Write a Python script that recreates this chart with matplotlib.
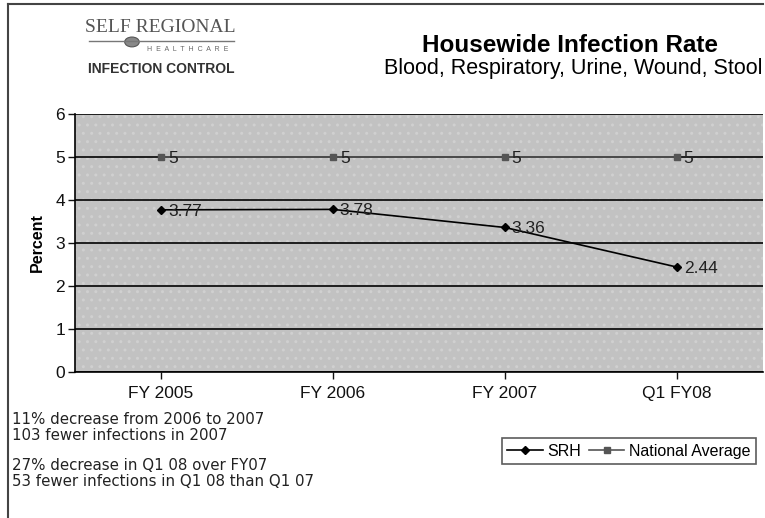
import matplotlib.pyplot as plt
from matplotlib.lines import Line2D
from matplotlib.patches import Rectangle, Circle

categories = ['FY 2005', 'FY 2006', 'FY 2007', 'Q1 FY08']
srh = [3.77, 3.78, 3.36, 2.44]
national_avg = [5, 5, 5, 5]
notes = ['11% decrease from 2006 to 2007',
         '103 fewer infections in 2007',
         '27% decrease in Q1 08 over FY07',
         '53 fewer infections in Q1 08 than Q1 07']

plt.rcParams['font.family'] = ['Liberation Sans', 'DejaVu Sans']

fig = plt.figure(figsize=(7.65, 5.18), dpi=100)
ax = fig.add_axes([0.098, 0.282, 0.899, 0.498])

# gray plot area with a fine dotted texture
ax.set_facecolor('#c2c2c2')
bg = Rectangle((0, 0), 1, 1, transform=ax.transAxes, facecolor='none',
               edgecolor='#d0d0d0', hatch='..', linewidth=0, zorder=0)
ax.add_patch(bg)

x = list(range(len(categories)))
ax.plot(x, srh, '-D', color='black', markersize=4, linewidth=1.2, label='SRH', zorder=3)
ax.plot(x, national_avg, '-s', color='#555555', markersize=5, linewidth=1.2,
        label='National Average', zorder=3)

for xi, v in zip(x, srh):
    ax.annotate(f'{v:g}', (xi, v), xytext=(5, -1), textcoords='offset points',
                va='center', ha='left', fontsize=12.5, color='#222222')
for xi, v in zip(x, national_avg):
    ax.annotate(f'{v:g}', (xi, v), xytext=(5, -1), textcoords='offset points',
                va='center', ha='left', fontsize=12.5, color='#222222')

ax.set_xlim(-0.5, 3.5)
ax.set_ylim(0, 6)
ax.set_yticks(range(7))
ax.set_xticks(x)
ax.set_xticklabels(categories)
ax.yaxis.grid(True, color='#111111', linewidth=1.3)
ax.set_axisbelow(True)
ax.tick_params(axis='both', labelsize=12.5, colors='#111111', length=5, width=1)
ax.tick_params(axis='x', pad=5)
ax.tick_params(axis='y', pad=2)
for side in ['top', 'right']:
    ax.spines[side].set_visible(False)
ax.spines['left'].set_linewidth(1.2)
ax.spines['bottom'].set_linewidth(1.2)
ax.set_ylabel('Percent', fontsize=11.5, fontweight='bold', labelpad=8)

leg = ax.legend(loc='upper right', bbox_to_anchor=(1.002, -0.226), ncol=2,
                frameon=True, fancybox=False, fontsize=11.5, handlelength=2.2,
                columnspacing=0.5, handletextpad=0.3, borderpad=0.35)
leg.get_frame().set_edgecolor('#333333')
leg.get_frame().set_linewidth(1.2)

# logo and headings
fig.text(0.210, 0.946, 'SELF REGIONAL', family='Liberation Serif', fontsize=14,
         color='#555555', ha='center', va='center')
fig.add_artist(Line2D([0.116, 0.306], [0.921, 0.921], color='#777777', linewidth=1))
fig.add_artist(Circle((0.1725, 0.919), 0.0095, transform=fig.transFigure,
                      facecolor='#888888', edgecolor='#555555', linewidth=0.8))
fig.text(0.245, 0.905, 'H  E  A  L  T  H  C  A  R  E', fontsize=5, color='#666666',
         ha='center', va='center')
fig.text(0.211, 0.866, 'INFECTION CONTROL', fontsize=10, fontweight='bold',
         color='#333333', ha='center', va='center')
fig.text(0.745, 0.913, 'Housewide Infection Rate', fontsize=17.5, fontweight='bold',
         ha='center', va='center')
fig.text(0.997, 0.868, 'Blood, Respiratory, Urine, Wound, Stool', fontsize=15.5,
         ha='right', va='center')

for txt, ypix in zip(notes, [419, 435, 466, 482]):
    fig.text(0.016, 1 - ypix / 518, txt, family='DejaVu Sans', fontsize=10.8,
             color='#222222', ha='left', va='center')

# page frame on left and top edges
fig.add_artist(Line2D([0.011, 0.011], [0.0, 0.993], color='#444444', linewidth=1.5))
fig.add_artist(Line2D([0.011, 0.997], [0.993, 0.993], color='#444444', linewidth=1.5))

fig.savefig('out.png', dpi=100)
